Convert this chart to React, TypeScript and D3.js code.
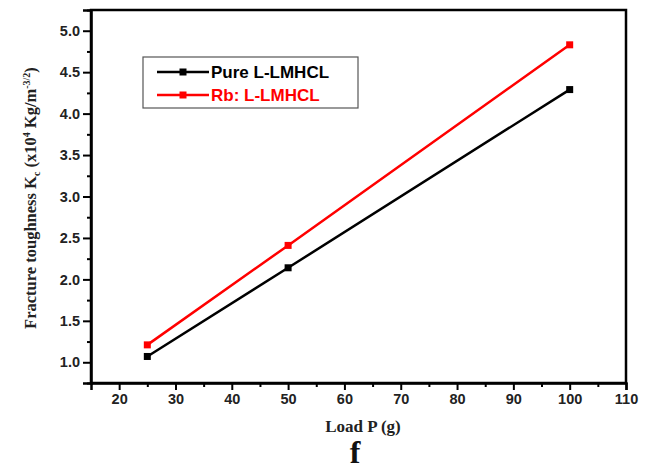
import React, { useEffect, useRef } from "react";
import * as d3 from "d3";

// Load values (g) and fracture toughness for both crystals
const loads = [25, 50, 100];
const pureKc = [1.07, 2.14, 4.29];
const rbKc = [1.21, 2.41, 4.83];

const seriesNames = ["Pure L-LMHCL", "Rb: L-LMHCL"];
const seriesColors = ["#000000", "#ff0000"];

const xTicks = [20, 30, 40, 50, 60, 70, 80, 90, 100, 110];
const yTicks = [1.0, 1.5, 2.0, 2.5, 3.0, 3.5, 4.0, 4.5, 5.0];

export default function App() {
  const ref = useRef<SVGSVGElement>(null);

  useEffect(() => {
    const w = 651;
    const h = 469;
    const left = 91;
    const right = 626;
    const top = 10;
    const bottom = 383;

    const svg = d3.select(ref.current);
    svg.selectAll("*").remove();

    const x = d3.scaleLinear().domain([15, 110]).range([left, right]);
    const y = d3.scaleLinear().domain([0.75, 5.25]).range([bottom, top]);

    // frame
    svg
      .append("rect")
      .attr("x", left)
      .attr("y", top)
      .attr("width", right - left)
      .attr("height", bottom - top)
      .attr("fill", "none")
      .attr("stroke", "#000")
      .attr("stroke-width", 2.5);

    // x-axis
    const xAxis = svg
      .append("g")
      .attr("transform", `translate(0, ${bottom})`)
      .call(
        d3
          .axisBottom(x)
          .tickValues(xTicks)
          .tickSize(7)
          .tickPadding(4)
          .tickFormat(d3.format("d"))
      );
    svg
      .append("g")
      .attr("transform", `translate(0, ${bottom})`)
      .call(
        d3
          .axisBottom(x)
          .tickValues(d3.range(25, 110, 10))
          .tickSize(4)
          .tickFormat(() => "")
      )
      .call((g) => g.select(".domain").remove());

    // y-axis
    const yAxis = svg
      .append("g")
      .attr("transform", `translate(${left}, 0)`)
      .call(
        d3
          .axisLeft(y)
          .tickValues(yTicks)
          .tickSize(8)
          .tickPadding(3)
          .tickFormat(d3.format(".1f"))
      );
    svg
      .append("g")
      .attr("transform", `translate(${left}, 0)`)
      .call(
        d3
          .axisLeft(y)
          .tickValues(d3.range(0.75, 5.3, 0.5))
          .tickSize(4)
          .tickFormat(() => "")
      )
      .call((g) => g.select(".domain").remove());

    [xAxis, yAxis].forEach((g) => {
      g.select(".domain").attr("stroke-width", 2.5);
      g.selectAll(".tick text")
        .attr("font-family", "Liberation Sans, Arial, sans-serif")
        .attr("font-weight", "bold")
        .attr("font-size", 14.5)
        .attr("fill", "#222");
    });
    svg.selectAll("g .tick line").attr("stroke-width", 2);

    // lines and markers
    const data = [pureKc, rbKc];
    data.forEach((vals, i) => {
      const pts = loads.map((l, j) => [l, vals[j]] as [number, number]);
      svg
        .append("path")
        .datum(pts)
        .attr("fill", "none")
        .attr("stroke", seriesColors[i])
        .attr("stroke-width", 2.5)
        .attr(
          "d",
          d3
            .line<[number, number]>()
            .x((d) => x(d[0]))
            .y((d) => y(d[1]))
        );
      svg
        .selectAll(null)
        .data(pts)
        .enter()
        .append("rect")
        .attr("x", (d) => x(d[0]) - 3.5)
        .attr("y", (d) => y(d[1]) - 3.5)
        .attr("width", 7)
        .attr("height", 7)
        .attr("fill", seriesColors[i]);
    });

    // legend
    const lg = svg.append("g");
    lg.append("rect")
      .attr("x", 143)
      .attr("y", 57)
      .attr("width", 215)
      .attr("height", 51)
      .attr("fill", "#fff")
      .attr("stroke", "#555")
      .attr("stroke-width", 1.2);
    seriesNames.forEach((name, i) => {
      const ly = 72 + i * 23;
      lg.append("line")
        .attr("x1", 157)
        .attr("x2", 209)
        .attr("y1", ly)
        .attr("y2", ly)
        .attr("stroke", seriesColors[i])
        .attr("stroke-width", 2.5);
      lg.append("rect")
        .attr("x", 179.5)
        .attr("y", ly - 3.5)
        .attr("width", 7)
        .attr("height", 7)
        .attr("fill", seriesColors[i]);
      lg.append("text")
        .attr("x", 211)
        .attr("y", ly + 6)
        .attr("font-family", "Liberation Sans, Arial, sans-serif")
        .attr("font-weight", "bold")
        .attr("font-size", 17)
        .attr("fill", seriesColors[i])
        .text(name);
    });

    // x-axis label
    svg
      .append("text")
      .attr("x", 363)
      .attr("y", 432)
      .attr("text-anchor", "middle")
      .attr("font-family", "Liberation Serif, Times New Roman, serif")
      .attr("font-weight", "bold")
      .attr("font-size", 17)
      .attr("fill", "#222")
      .text("Load P (g)");

    // panel letter
    svg
      .append("text")
      .attr("x", 355)
      .attr("y", 463)
      .attr("text-anchor", "middle")
      .attr("font-family", "Liberation Serif, Times New Roman, serif")
      .attr("font-weight", "bold")
      .attr("font-size", 32)
      .attr("fill", "#111")
      .text("f");

    // y-axis label
    const yl = svg
      .append("text")
      .attr("transform", `translate(36, 198) rotate(-90)`)
      .attr("text-anchor", "middle")
      .attr("font-family", "Liberation Serif, Times New Roman, serif")
      .attr("font-weight", "bold")
      .attr("font-size", 16.5)
      .attr("fill", "#222");
    yl.append("tspan").text("Fracture toughness K");
    yl.append("tspan").attr("font-size", 10).attr("dy", 4).text("c");
    yl.append("tspan").attr("dy", -4).text(" (x10");
    yl.append("tspan").attr("font-size", 10).attr("dy", -6).text("4");
    yl.append("tspan").attr("dy", 6).text(" Kg/m");
    yl.append("tspan").attr("font-size", 10).attr("dy", -6).text("-3/2");
    yl.append("tspan").attr("dy", 6).text(")");

    svg.attr("width", w).attr("height", h);
  }, []);

  return (
    <svg
      ref={ref}
      width={651}
      height={469}
      style={{ position: "absolute", left: 0, top: 0, background: "#fff" }}
    />
  );
}
